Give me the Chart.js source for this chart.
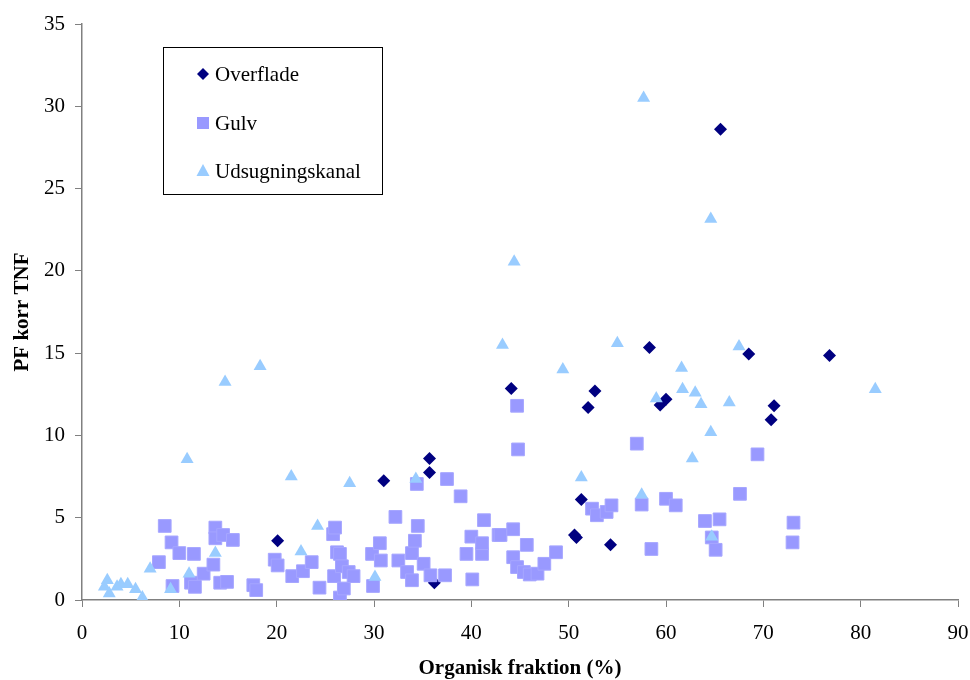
<!DOCTYPE html>
<html lang="da">
<head>
<meta charset="UTF-8">
<title>PF korr TNF vs organisk fraktion</title>
<script src="https://cdn.jsdelivr.net/npm/chart.js@4.4.1/dist/chart.umd.min.js"></script>
<style>
    html, body { margin: 0; padding: 0; background: #fff; }
    #wrap { position: relative; width: 970px; height: 680px; }
</style>
</head>
<body>
<div id="wrap"><canvas id="chart" width="970" height="680"></canvas></div>
<script>
// Overflade (diamonds)
const overfladeX = [20.1, 31.0, 35.7, 35.7, 36.2, 44.1, 50.6, 50.8, 51.3, 52.0,
                    52.7, 54.3, 58.3, 59.4, 60.0, 65.6, 68.5, 70.8, 71.1, 76.8];
const overfladeY = [3.6, 7.25, 8.6, 7.75, 1.05, 12.85, 3.95, 3.8, 6.1, 11.7,
                    12.7, 3.35, 15.35, 11.85, 12.2, 28.6, 14.95, 10.95, 11.8, 14.85];

// Gulv (squares)
const gulvX = [7.9, 8.5, 9.2, 9.3, 10.0, 11.2, 11.5, 11.6, 12.5, 13.5,
               13.7, 13.7, 14.2, 14.5, 14.9, 15.5, 17.6, 17.9, 19.8, 20.1,
               21.6, 22.7, 23.6, 24.4, 25.8, 25.9, 26.0, 26.2, 26.5, 26.5,
               26.7, 26.9, 27.4, 27.9, 29.8, 29.9, 30.6, 30.7, 32.2, 32.5,
               33.4, 33.9, 33.9, 34.2, 34.4, 34.5, 35.1, 35.8, 37.3, 37.5,
               38.9, 39.5, 40.0, 40.1, 41.1, 41.1, 41.3, 42.8, 43.0, 44.3,
               44.3, 44.7, 44.7, 44.8, 45.4, 45.7, 46.0, 46.8, 47.5, 48.7,
               52.4, 52.9, 53.9, 54.4, 57.0, 57.5, 58.5, 60.0, 61.0, 64.0,
               64.7, 65.1, 65.5, 67.6, 69.4, 73.0, 73.1];
const gulvY = [2.3, 4.5, 3.5, 0.85, 2.85, 1.05, 2.8, 0.8, 1.6, 2.15,
               4.4, 3.75, 1.05, 3.95, 1.1, 3.65, 0.9, 0.6, 2.45, 2.1,
               1.45, 1.75, 2.3, 0.75, 4.0, 1.45, 4.4, 2.9, 2.8, 0.15,
               2.05, 0.7, 1.7, 1.45, 2.8, 0.85, 3.45, 2.4, 5.05, 2.4,
               1.7, 2.85, 1.2, 3.6, 7.05, 4.5, 2.2, 1.5, 1.5, 7.35,
               6.3, 2.8, 3.85, 1.25, 2.8, 3.45, 4.85, 3.95, 3.95, 4.3,
               2.6, 2.0, 11.8, 9.15, 1.7, 3.35, 1.55, 1.6, 2.2, 2.9,
               5.55, 5.15, 5.35, 5.75, 9.5, 5.8, 3.1, 6.15, 5.75, 4.8,
               3.8, 3.05, 4.9, 6.45, 8.85, 3.5, 4.7];

// Udsugningskanal (triangles)
const kanalX = [2.3, 2.6, 2.8, 3.6, 4.0, 4.7, 5.5, 6.2, 7.0, 9.1,
                10.8, 11.0, 13.7, 14.7, 18.3, 21.5, 22.5, 24.2, 27.5, 30.1,
                34.3, 43.2, 44.4, 49.4, 51.3, 55.0, 57.5, 57.7, 59.0, 61.6,
                61.7, 62.7, 63.0, 63.6, 64.6, 64.6, 64.7, 66.5, 67.5, 81.5];
const kanalY = [0.8, 1.2, 0.4, 0.8, 0.95, 0.95, 0.65, 0.15, 1.9, 0.65,
                8.55, 1.6, 2.85, 13.25, 14.2, 7.5, 2.95, 4.5, 7.1, 1.4,
                7.35, 15.5, 20.55, 14.0, 7.45, 15.6, 6.4, 30.5, 12.25, 14.1,
                12.8, 8.6, 12.6, 11.9, 10.2, 23.15, 3.85, 12.0, 15.4, 12.8];

const xTicks = [0, 10, 20, 30, 40, 50, 60, 70, 80, 90];
const yTicks = [0, 5, 10, 15, 20, 25, 30, 35];

const serif = '"Liberation Serif", "Times New Roman", serif';
const axisGray = '#808080';

function pts(xs, ys) {
    return xs.map((x, i) => ({ x: x, y: ys[i] }));
}

// legend box drawn inside the plot, like the Excel original
const boxLegend = {
    id: 'boxLegend',
    afterDraw(chart) {
        const ctx = chart.ctx;
        ctx.save();
        ctx.strokeStyle = '#000';
        ctx.lineWidth = 1;
        ctx.strokeRect(163.5, 47.5, 219, 147);
        const rows = [74, 123, 171];
        chart.data.datasets.forEach((ds, i) => {
            const y = rows[i];
            const x = 203;
            ctx.fillStyle = ds.backgroundColor;
            ctx.beginPath();
            if (ds.pointStyle === 'rectRot') {
                ctx.moveTo(x, y - 6); ctx.lineTo(x + 6, y); ctx.lineTo(x, y + 6); ctx.lineTo(x - 6, y);
            } else if (ds.pointStyle === 'rect') {
                ctx.rect(x - 6, y - 6, 12, 12);
            } else {
                ctx.moveTo(x, y - 7); ctx.lineTo(x + 6.5, y + 5); ctx.lineTo(x - 6.5, y + 5);
            }
            ctx.closePath();
            ctx.fill();
            ctx.fillStyle = '#000';
            ctx.font = '21px ' + serif;
            ctx.textBaseline = 'middle';
            ctx.textAlign = 'left';
            ctx.fillText(ds.label, 215, y + 1);
        });
        ctx.restore();
    }
};

new Chart(document.getElementById('chart'), {
    type: 'scatter',
    data: {
        datasets: [
            {
                label: 'Overflade',
                data: pts(overfladeX, overfladeY),
                pointStyle: 'rectRot',
                pointRadius: 6.5,
                backgroundColor: '#000080',
                borderColor: '#000080',
                borderWidth: 0,
                order: 3
            },
            {
                label: 'Gulv',
                data: pts(gulvX, gulvY),
                pointStyle: 'rect',
                pointRadius: 9,
                backgroundColor: '#9999ff',
                borderColor: '#a6a6ff',
                borderWidth: 1,
                order: 2
            },
            {
                label: 'Udsugningskanal',
                data: pts(kanalX, kanalY),
                pointStyle: 'triangle',
                pointRadius: 7.5,
                backgroundColor: '#99ccff',
                borderColor: '#99ccff',
                borderWidth: 0,
                order: 1
            }
        ]
    },
    options: {
        responsive: false,
        animation: false,
        layout: { padding: { left: 0, right: 0, top: 24, bottom: 0 } },
        plugins: {
            legend: { display: false },
            tooltip: { enabled: false }
        },
        scales: {
            x: {
                type: 'linear',
                min: 0,
                max: 90,
                afterBuildTicks: (s) => { s.ticks = xTicks.map(v => ({ value: v })); },
                afterFit: (s) => { s.height = 80; s.paddingLeft = 0; s.paddingRight = 12; },
                grid: { display: true, drawOnChartArea: false, drawTicks: true, tickLength: 7, color: axisGray },
                border: { color: axisGray, width: 1.5 },
                ticks: { color: '#000', padding: 14, maxRotation: 0, font: { family: serif, size: 21 } },
                title: {
                    display: true,
                    text: 'Organisk fraktion (%)',
                    color: '#000',
                    padding: { top: 0, bottom: 0 },
                    font: { family: serif, size: 21, weight: 'bold', lineHeight: 1.1 }
                }
            },
            y: {
                type: 'linear',
                min: 0,
                max: 35,
                afterBuildTicks: (s) => { s.ticks = yTicks.map(v => ({ value: v })); },
                afterFit: (s) => { s.width = 82; },
                grid: { display: true, drawOnChartArea: false, drawTicks: true, tickLength: 7, color: axisGray },
                border: { color: axisGray, width: 1.5 },
                ticks: { color: '#000', padding: 10, font: { family: serif, size: 21 } },
                title: {
                    display: true,
                    text: 'PF korr TNF',
                    color: '#000',
                    padding: { top: 10, bottom: 0 },
                    font: { family: serif, size: 21, weight: 'bold' }
                }
            }
        }
    },
    plugins: [boxLegend]
});
</script>
</body>
</html>
